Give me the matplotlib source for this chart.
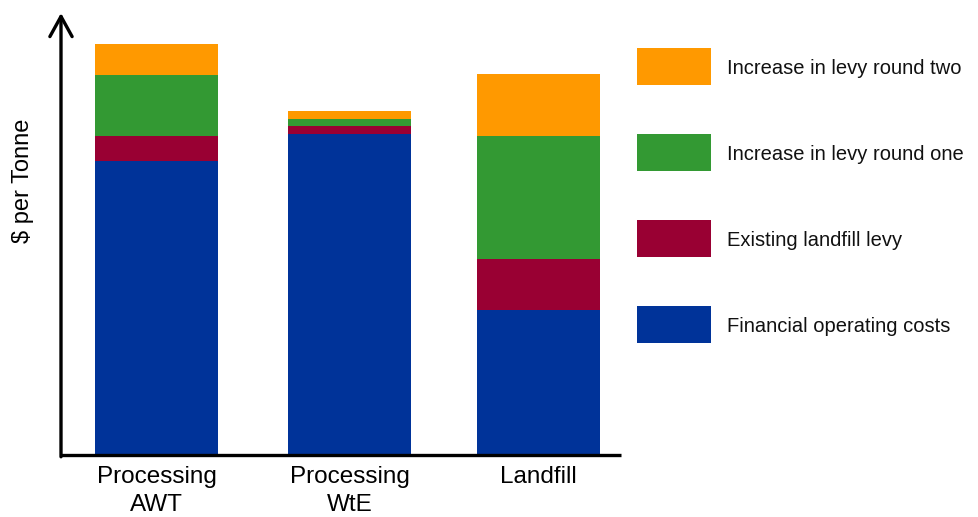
import numpy as np
import matplotlib.pyplot as plt
from matplotlib.patches import Rectangle

plt.rcParams['font.family'] = ['Liberation Sans', 'DejaVu Sans']

categories = ['Processing\nAWT', 'Processing\nWtE', 'Landfill']
series = ['Financial operating costs', 'Existing landfill levy',
          'Increase in levy round one', 'Increase in levy round two']
colors = ['#003399', '#990033', '#339933', '#FF9900']

# $ per tonne, arbitrary units (no scale shown on the axis)
operating = np.array([294, 321, 145])
existing_levy = np.array([25, 8, 51])
round_one = np.array([61, 7, 123])
round_two = np.array([31, 8, 62])

W, H = 979, 517
fig = plt.figure(figsize=(W / 100, H / 100), dpi=100)
ax = fig.add_axes([61 / W, 62 / H, (621 - 61) / W, (455 - 13) / H])

xpos = [156.5, 349.5, 538]
bottom = np.zeros(len(categories))
for vals, c in zip([operating, existing_levy, round_one, round_two], colors):
    ax.bar(xpos, vals, width=123, bottom=bottom, color=c, linewidth=0)
    bottom += vals

ax.set_xlim(61, 621)
ax.set_ylim(0, 442)
for s in ax.spines.values():
    s.set_visible(False)
ax.set_yticks([])
ax.set_xticks(xpos)
ax.set_xticklabels(categories, fontsize=17.5, linespacing=1.36)
ax.tick_params(axis='x', length=0, pad=8)
ax.set_ylabel('$ per Tonne', fontsize=17)
ax.yaxis.set_label_coords(-0.048, 0.62)

# axes drawn by hand: arrow on y, plain line on x
ax.plot([0, 1], [0, 0], transform=ax.transAxes, color='black', lw=2.4,
        solid_capstyle='butt', clip_on=False)
ax.annotate('', xy=(0, 1.0), xytext=(0, -0.004), xycoords='axes fraction',
            arrowprops=dict(arrowstyle='->,head_length=1.45,head_width=0.8',
                            color='black', lw=2.4, shrinkA=0, shrinkB=0,
                            capstyle='round', joinstyle='round'))

# legend boxes stacked top to bottom
legend_tops = [48, 134, 220, 306]
for top, label, c in zip(legend_tops, series[::-1], colors[::-1]):
    fig.add_artist(Rectangle((637 / W, 1 - (top + 37) / H), 74 / W, 37 / H,
                             transform=fig.transFigure, color=c, lw=0))
    fig.text(727 / W, 1 - (top + 20.5) / H, label, fontsize=14.5,
             va='center', ha='left', color='#111111')

fig.savefig('out.png', dpi=100)
